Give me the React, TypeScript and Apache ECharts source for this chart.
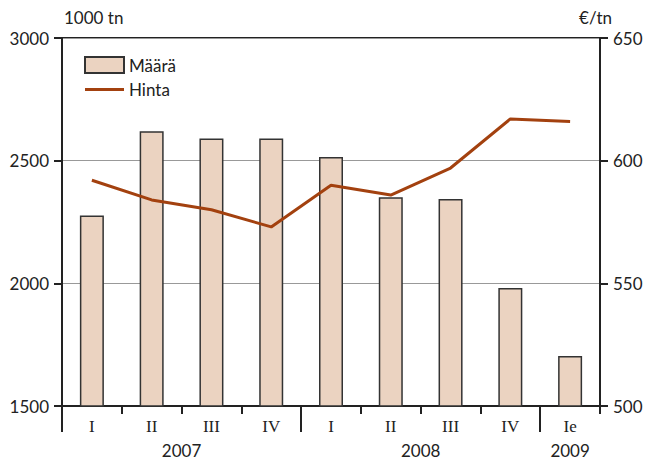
import React, { useEffect, useRef } from "react";
import * as echarts from "echarts";

const quarters = ["I", "II", "III", "IV", "I", "II", "III", "IV", "Ie"];
const years = ["2007", "2008", "2009"];
const yearCenters = [2, 6, 8.5];
const yearBounds = [0, 4, 8];
const maara = [2277, 2620, 2590, 2590, 2515, 2351, 2344, 1981, 1704];
const hinta = [592, 584, 580, 573, 590, 586, 597, 617, 616];

const SANS = "Lato, 'Open Sans', sans-serif";
const SERIF = "'Liberation Serif', serif";
const INK = "#222";
const LINE_ICON =
  "path://M0,0 h0.01 v0.01 h-0.01 z M0,6.5 h39 v3 h-39 z M0,15.99 h0.01 v0.01 h-0.01 z";

export default function App() {
  const ref = useRef<HTMLDivElement>(null);
  useEffect(() => {
    const chart = echarts.init(ref.current!, null, { renderer: "svg" });
    chart.setOption({
      animation: false,
      grid: {
        left: 62,
        right: 62,
        top: 38,
        bottom: 56,
        show: true,
        borderColor: INK,
        borderWidth: 2,
        backgroundColor: "transparent",
      },
      legend: {
        orient: "vertical",
        left: 79,
        top: 51,
        itemWidth: 39,
        itemHeight: 16,
        itemGap: 7,
        textStyle: { fontFamily: SANS, fontSize: 17, color: INK },
        data: [
          { name: "Määrä", icon: "rect" },
          { name: "Hinta", icon: LINE_ICON, itemStyle: { color: "#a3410f", borderWidth: 0 } },
        ],
      },
      xAxis: [
        {
          type: "category",
          data: quarters,
          boundaryGap: true,
          axisLine: { show: true, lineStyle: { color: INK, width: 2 } },
          axisTick: { show: true, length: 8, lineStyle: { color: INK, width: 2 } },
          axisLabel: { fontFamily: SERIF, fontSize: 17, color: INK, margin: 12 },
          splitLine: { show: false },
        },
        {
          type: "value",
          position: "bottom",
          min: 0,
          max: 9,
          axisLine: { show: false },
          axisTick: {
            show: true,
            length: 26,
            customValues: yearBounds,
            lineStyle: { color: INK, width: 2 },
          },
          axisLabel: {
            show: true,
            customValues: yearCenters,
            formatter: (v: number) => years[yearCenters.indexOf(v)] ?? "",
            fontFamily: SANS,
            fontSize: 17,
            color: INK,
            margin: 36,
          },
          splitLine: { show: false },
        },
      ],
      yAxis: [
        {
          type: "value",
          min: 1500,
          max: 3000,
          interval: 500,
          name: "1000 tn",
          nameLocation: "end",
          nameGap: 12,
          nameTextStyle: { fontFamily: SANS, fontSize: 17, color: INK, align: "left", padding: [0, 0, 0, 2] },
          axisLine: { show: true, lineStyle: { color: INK, width: 2 } },
          axisTick: { show: true, length: 8, lineStyle: { color: INK, width: 2 } },
          axisLabel: {
            fontFamily: SANS,
            fontSize: 17,
            color: INK,
            margin: 13,
            formatter: (v: number) => String(v),
          },
          splitLine: { show: true, lineStyle: { color: "#999", width: 1 } },
        },
        {
          type: "value",
          min: 500,
          max: 650,
          interval: 50,
          name: "€/tn",
          nameLocation: "end",
          nameGap: 12,
          nameTextStyle: { fontFamily: SANS, fontSize: 17, color: INK, align: "right", padding: [0, -12, 0, 0] },
          axisLine: { show: true, lineStyle: { color: INK, width: 2 } },
          axisTick: { show: true, length: 8, lineStyle: { color: INK, width: 2 } },
          axisLabel: {
            fontFamily: SANS,
            fontSize: 17,
            color: INK,
            margin: 13,
            formatter: (v: number) => String(v),
          },
          splitLine: { show: false },
        },
      ],
      series: [
        {
          name: "Määrä",
          type: "bar",
          data: maara,
          barWidth: 24,
          itemStyle: { color: "#ebd3c1", borderColor: "#333", borderWidth: 1.5 },
        },
        {
          name: "Hinta",
          type: "line",
          yAxisIndex: 1,
          data: hinta,
          symbol: "none",
          lineStyle: { color: "#a3410f", width: 3 },
          itemStyle: { color: "#a3410f" },
        },
      ],
    });
    return () => chart.dispose();
  }, []);
  return (
    <div
      ref={ref}
      style={{ position: "fixed", left: 0, top: 0, width: 662, height: 462, background: "#fff" }}
    />
  );
}
